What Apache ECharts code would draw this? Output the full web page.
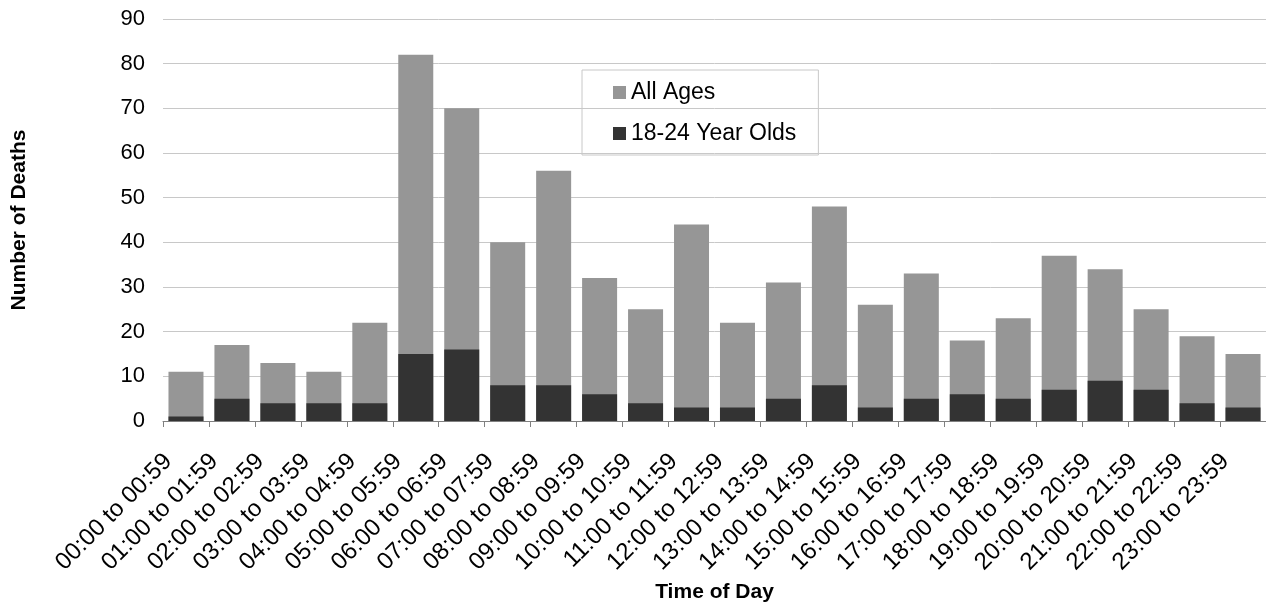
<!DOCTYPE html>
<html>
<head>
<meta charset="utf-8">
<script src="https://cdn.jsdelivr.net/npm/echarts@6/dist/echarts.min.js"></script>
<style>
html,body{margin:0;padding:0;background:#fff;}
#chart{width:1266px;height:607px;}
</style>
</head>
<body>
<div id="chart"></div>
<script>
const categories = ["00:00 to 00:59","01:00 to 01:59","02:00 to 02:59","03:00 to 03:59","04:00 to 04:59","05:00 to 05:59","06:00 to 06:59","07:00 to 07:59","08:00 to 08:59","09:00 to 09:59","10:00 to 10:59","11:00 to 11:59","12:00 to 12:59","13:00 to 13:59","14:00 to 14:59","15:00 to 15:59","16:00 to 16:59","17:00 to 17:59","18:00 to 18:59","19:00 to 19:59","20:00 to 20:59","21:00 to 21:59","22:00 to 22:59","23:00 to 23:59"];
const allAges = [11,17,13,11,22,82,70,40,56,32,25,44,22,31,48,26,33,18,23,37,34,25,19,15];
const youngAdults = [1,5,4,4,4,15,16,8,8,6,4,3,3,5,8,3,5,6,5,7,9,7,4,3];

const font = 'Liberation Sans, Arial, sans-serif';
const chart = echarts.init(document.getElementById('chart'), null, {renderer: 'canvas'});
chart.setOption({
  animation: false,
  backgroundColor: '#ffffff',
  textStyle: {fontFamily: font, color: '#000'},
  grid: {left: 163, right: 0, top: 19, bottom: 186, containLabel: false, outerBoundsMode: 'none'},
  legend: {
    orient: 'vertical',
    left: 582, top: 70,
    padding: [11, 22, 10, 31],
    borderColor: '#c8c8c8', borderWidth: 1,
    itemWidth: 13, itemHeight: 13,
    itemGap: 18,
    icon: 'rect',
    textStyle: {fontSize: 23, fontFamily: font, color: '#000', lineHeight: 22},
    data: ['All Ages', '18-24 Year Olds']
  },
  xAxis: {
    type: 'category',
    data: categories,
    name: 'Time of Day',
    nameLocation: 'middle',
    nameGap: 159,
    nameTextStyle: {fontSize: 21, fontWeight: 'bold', fontFamily: font, color: '#000'},
    axisLine: {lineStyle: {color: '#808080', width: 1}},
    axisTick: {show: true, length: 6, lineStyle: {color: '#808080'}},
    axisLabel: {rotate: 45, fontSize: 24, fontFamily: font, color: '#000', margin: 19, padding: [0, 25, 0, 0], interval: 0}
  },
  yAxis: {
    type: 'value',
    min: 0, max: 90, interval: 10,
    name: 'Number of Deaths',
    nameLocation: 'middle',
    nameGap: 133,
    nameRotate: 90,
    nameTextStyle: {fontSize: 21, fontWeight: 'bold', fontFamily: font, color: '#000'},
    axisLine: {show: false},
    axisTick: {show: false},
    axisLabel: {fontSize: 22, fontFamily: font, color: '#000', margin: 18},
    splitLine: {lineStyle: {color: '#c8c8c8', width: 1}}
  },
  series: [
    {
      name: 'All Ages', type: 'bar', data: allAges,
      barWidth: 35, barGap: '-100%',
      itemStyle: {color: '#969696'}
    },
    {
      name: '18-24 Year Olds', type: 'bar', data: youngAdults,
      barWidth: 35,
      itemStyle: {color: '#333333'}
    }
  ]
});
</script>
</body>
</html>
